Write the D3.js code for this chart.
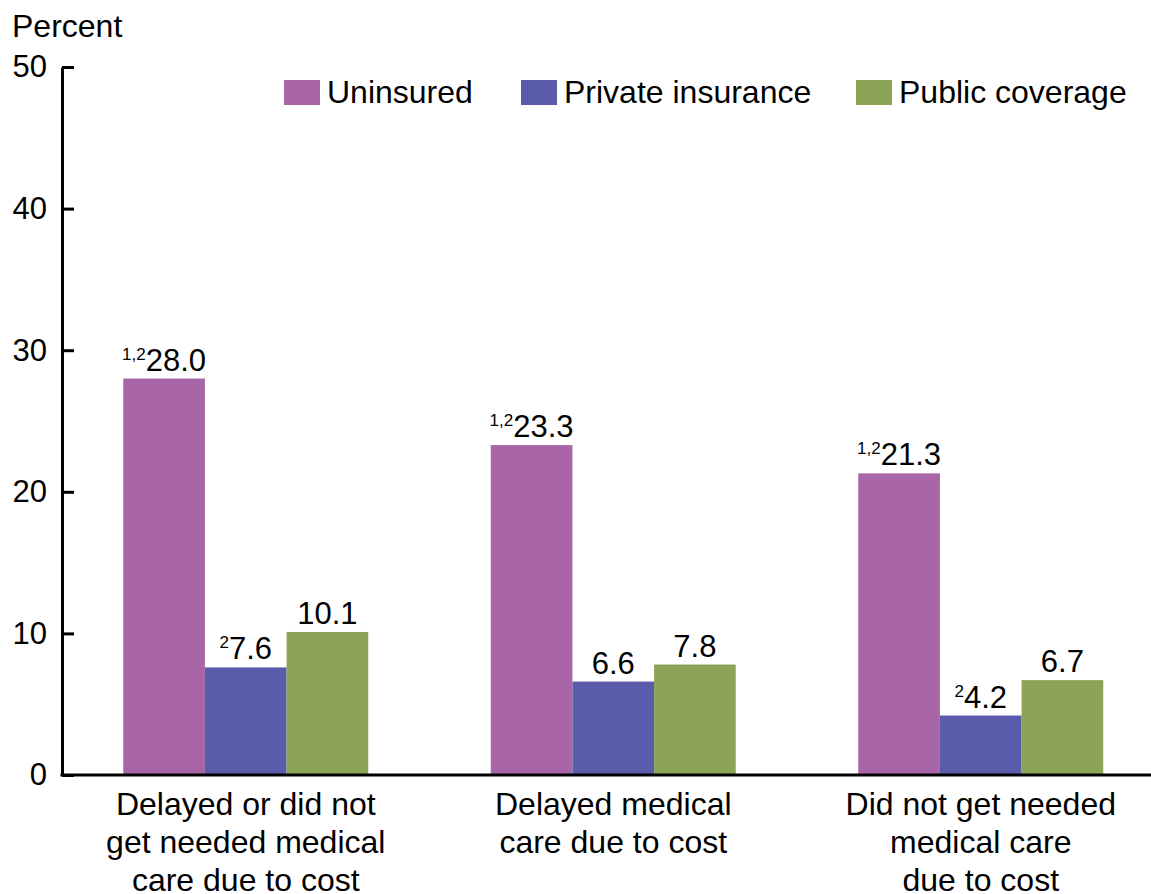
<!DOCTYPE html>
<html>
<head>
<meta charset="utf-8">
<script src="https://cdn.jsdelivr.net/npm/d3@7"></script>
<style>
  body { margin: 0; background: #fff; }
  svg { font-family: "Liberation Sans", Arial, sans-serif; }
</style>
</head>
<body>
<div id="chart"></div>
<script>
// chart data
var categories = [
    ["Delayed or did not", "get needed medical", "care due to cost"],
    ["Delayed medical", "care due to cost"],
    ["Did not get needed", "medical care", "due to cost"]
];
var seriesNames = ["Uninsured", "Private insurance", "Public coverage"];
var seriesColors = ["#a866a8", "#5b5bab", "#8ba455"];
var uninsured = [28.0, 23.3, 21.3];
var privateIns = [7.6, 6.6, 4.2];
var publicCov = [10.1, 7.8, 6.7];
var uninsuredNotes = ["1,2", "1,2", "1,2"];
var privateNotes = ["2", "", "2"];
var publicNotes = ["", "", ""];
var yTicks = [0, 10, 20, 30, 40, 50];

var chartWidth = 1151, chartHeight = 894;
var plotLeft = 62, plotRight = 1164.5, plotTop = 67, plotBottom = 775;

var svg = d3.select("#chart").append("svg")
    .attr("width", chartWidth)
    .attr("height", chartHeight);

var series = [
    {name: seriesNames[0], values: uninsured, notes: uninsuredNotes},
    {name: seriesNames[1], values: privateIns, notes: privateNotes},
    {name: seriesNames[2], values: publicCov, notes: publicNotes}
];

var x0 = d3.scaleBand()
    .domain(d3.range(categories.length))
    .range([plotLeft, plotRight])
    .paddingInner(1 / 3)
    .paddingOuter(1 / 6);

var x1 = d3.scaleBand()
    .domain(d3.range(series.length))
    .range([0, x0.bandwidth()]);

var y = d3.scaleLinear()
    .domain([0, 50])
    .range([plotBottom, plotTop]);

// bars
series.forEach(function(s, si) {
    svg.append("g").selectAll("rect")
        .data(s.values)
        .enter()
        .append("rect")
        .attr("x", function(d, i) { return x0(i) + x1(si); })
        .attr("y", function(d) { return y(d); })
        .attr("width", x1.bandwidth())
        .attr("height", function(d) { return y(0) - y(d); })
        .attr("fill", seriesColors[si]);

    // value labels with footnote superscripts
    var labels = svg.append("g").selectAll("text")
        .data(s.values)
        .enter()
        .append("text")
        .attr("x", function(d, i) { return x0(i) + x1(si) + x1.bandwidth() / 2; })
        .attr("y", function(d) { return y(d) - 8; })
        .attr("text-anchor", "middle")
        .attr("font-size", "31px")
        .attr("fill", "#000");

    labels.append("tspan")
        .attr("font-size", "17px")
        .attr("dy", "-11")
        .text(function(d, i) { return s.notes[i]; });

    labels.append("tspan")
        .attr("dy", function(d, i) { return s.notes[i] ? "11" : "0"; })
        .text(function(d) { return d.toFixed(1); });
});

// y axis
var yAxis = svg.append("g")
    .attr("transform", "translate(" + plotLeft + ",0)")
    .call(d3.axisLeft(y)
        .tickValues(yTicks)
        .tickSizeInner(-12)
        .tickSizeOuter(0)
        .tickPadding(15));

yAxis.select(".domain")
    .attr("stroke", "#000")
    .attr("stroke-width", 3);
yAxis.selectAll(".tick line")
    .attr("stroke", "#000")
    .attr("stroke-width", 3);
yAxis.selectAll(".tick text")
    .attr("font-size", "31px")
    .attr("font-family", "Liberation Sans, Arial, sans-serif")
    .attr("fill", "#000");

// x axis baseline
svg.append("line")
    .attr("x1", plotLeft - 1.5)
    .attr("x2", chartWidth)
    .attr("y1", y(0))
    .attr("y2", y(0))
    .attr("stroke", "#000")
    .attr("stroke-width", 3);

// category labels
var catLabels = svg.append("g").selectAll("text")
    .data(categories)
    .enter()
    .append("text")
    .attr("text-anchor", "middle")
    .attr("font-size", "32px")
    .attr("fill", "#000");

catLabels.selectAll("tspan")
    .data(function(d, i) { return d.map(function(line) { return [line, i]; }); })
    .enter()
    .append("tspan")
    .attr("x", function(d) { return x0(d[1]) + x0.bandwidth() / 2; })
    .attr("y", function(d, j) { return 815 + j * 38; })
    .text(function(d) { return d[0]; });

// y axis title
svg.append("text")
    .attr("x", 12)
    .attr("y", 37)
    .attr("font-size", "32px")
    .attr("fill", "#000")
    .text("Percent");

// legend
var legendX = [284, 521, 856];
var legend = svg.append("g").selectAll("g")
    .data(seriesNames)
    .enter()
    .append("g")
    .attr("transform", function(d, i) { return "translate(" + legendX[i] + ",80)"; });

legend.append("rect")
    .attr("width", 36)
    .attr("height", 25)
    .attr("fill", function(d, i) { return seriesColors[i]; });

legend.append("text")
    .attr("x", 43)
    .attr("y", 23)
    .attr("font-size", "32px")
    .attr("fill", "#000")
    .text(function(d) { return d; });
</script>
</body>
</html>
